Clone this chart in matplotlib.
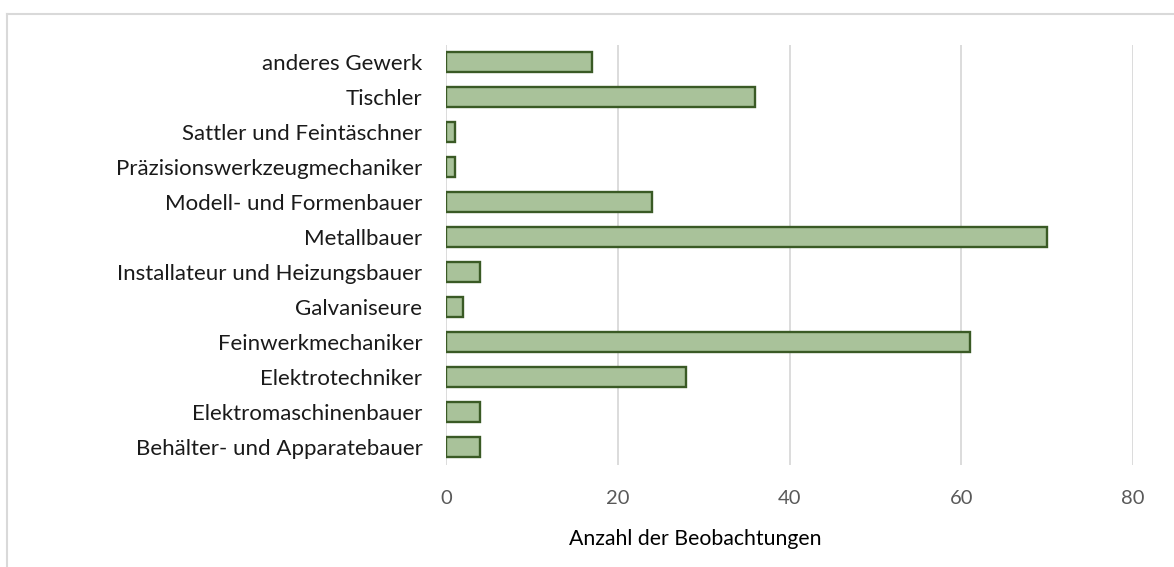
import matplotlib
matplotlib.use("Agg")
import matplotlib.pyplot as plt
from matplotlib.lines import Line2D

categories = ["Behälter- und Apparatebauer", "Elektromaschinenbauer", "Elektrotechniker",
              "Feinwerkmechaniker", "Galvaniseure", "Installateur und Heizungsbauer",
              "Metallbauer", "Modell- und Formenbauer", "Präzisionswerkzeugmechaniker",
              "Sattler und Feintäschner", "Tischler", "anderes Gewerk"]
values = [4, 4, 28, 61, 2, 4, 70, 24, 1, 1, 36, 17]
xticks = [0, 20, 40, 60, 80]

plt.rcParams['font.family'] = ['Lato', 'DejaVu Sans']

W, H = 1174, 567
fig = plt.figure(figsize=(W/100, H/100), dpi=100)
ax = fig.add_axes([446/W, 1-464.5/H, (1133-446)/W, 420/H])

ax.barh(range(len(categories)), values, height=0.57, color="#A9C29A",
        edgecolor="#3A5A25", linewidth=1.7, zorder=3)
ax.set_xlim(0, 80)
ax.set_ylim(-0.5, len(categories)-0.5)
ax.set_xticks(xticks)
ax.set_xticklabels([str(t) for t in xticks], color="#595959", fontsize=14.5)
ax.set_yticks(range(len(categories)))
ax.set_yticklabels(categories, fontsize=16, color="#1a1a1a")
ax.tick_params(axis='both', length=0)
ax.tick_params(axis='x', pad=18)
ax.tick_params(axis='y', pad=17)
ax.grid(axis='x', color="#D9D9D9", linewidth=1.3, zorder=0)
for s in ax.spines.values():
    s.set_visible(False)

fig.text(695/W, 1-539/H, "Anzahl der Beobachtungen", fontsize=15.3, color="#000000",
         ha="center", va="center")

# outer frame (top and left only visible)
fig.add_artist(Line2D([7/W, 7/W], [0, 1-14/H], transform=fig.transFigure,
                      color="#D9D9D9", linewidth=1.5))
fig.add_artist(Line2D([7/W, 1], [1-14/H, 1-14/H], transform=fig.transFigure,
                      color="#D9D9D9", linewidth=1.5))

fig.savefig("out.png", dpi=100)
